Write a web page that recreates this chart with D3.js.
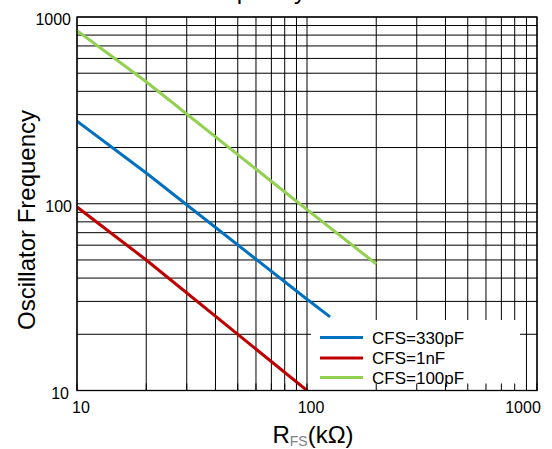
<!DOCTYPE html>
<meta charset="utf-8">
<script src="https://d3js.org/d3.v7.min.js"></script>
<style>
  body { margin: 0; background: #fff; }
  text { font-family: "Liberation Sans", Arial, sans-serif; fill: #000; }
</style>
<svg id="chart" width="552" height="449"></svg>
<script>

// values
var seriesNames = ["CFS=330pF", "CFS=1nF", "CFS=100pF"];
var seriesColors = ["#0070c0", "#c00000", "#92d050"];

var r330 = [10, 20, 100, 126];
var f330 = [277, 146, 30.8, 24.8];

var r1n = [10, 20, 100];
var f1n = [96, 50, 10];

var r100 = [10, 20, 100, 200];
var f100 = [845, 450, 93, 47.6];

var xLabels = ["10", "100", "1000"];
var yLabels = ["10", "100", "1000"];

var svg = d3.select("#chart");

// plot box (window.top is reserved, so no "top" here)
var pLeft = 77, pRight = 537, pTop = 17, pBottom = 390.5;

var x = d3.scaleLog().domain([10, 1000]).range([pLeft, pRight]);
var y = d3.scaleLog().domain([10, 1000]).range([pBottom, pTop]);

// grid
var grid = svg.append("g");
grid.selectAll(".vg")
  .data(x.ticks())
  .enter().append("line")
    .attr("x1", d => x(d)).attr("x2", d => x(d))
    .attr("y1", pTop).attr("y2", pBottom)
    .attr("stroke", "#000").attr("stroke-width", 1);
grid.selectAll(".hg")
  .data(y.ticks())
  .enter().append("line")
    .attr("x1", pLeft).attr("x2", pRight)
    .attr("y1", d => y(d)).attr("y2", d => y(d))
    .attr("stroke", "#000").attr("stroke-width", 1);

// clip
svg.append("clipPath").attr("id", "clip")
  .append("rect").attr("x", pLeft).attr("y", pTop)
  .attr("width", pRight - pLeft).attr("height", pBottom - pTop);

var line = d3.line().x(d => x(d[0])).y(d => y(d[1]));

var series = [
  d3.zip(r330, f330),
  d3.zip(r1n, f1n),
  d3.zip(r100, f100)
];

svg.append("g").attr("clip-path", "url(#clip)")
  .selectAll("path")
  .data(series)
  .enter().append("path")
    .attr("d", line)
    .attr("fill", "none")
    .attr("stroke", (d, i) => seriesColors[i])
    .attr("stroke-width", 3);

// legend box
var lg = svg.append("g");
lg.append("rect")
  .attr("x", 311).attr("y", 320)
  .attr("width", 209).attr("height", pBottom - 320)
  .attr("fill", "#fff");
var rows = [337.5, 358, 377.5];
seriesNames.forEach(function(name, i) {
  lg.append("line")
    .attr("x1", 320).attr("x2", 363)
    .attr("y1", rows[i]).attr("y2", rows[i])
    .attr("stroke", seriesColors[i]).attr("stroke-width", 3);
  lg.append("text")
    .attr("x", 372).attr("y", rows[i] + 6)
    .attr("font-size", 17)
    .text(name);
});

// inward bottom ticks
svg.append("g").selectAll("line")
  .data(x.ticks())
  .enter().append("line")
    .attr("x1", d => x(d)).attr("x2", d => x(d))
    .attr("y1", pBottom - 7).attr("y2", pBottom)
    .attr("stroke", "#000");

// frame
svg.append("rect")
  .attr("x", pLeft).attr("y", pTop)
  .attr("width", pRight - pLeft).attr("height", pBottom - pTop)
  .attr("fill", "none").attr("stroke", "#000").attr("stroke-width", 1.3);

// tick labels
svg.append("g").selectAll("text")
  .data(xLabels)
  .enter().append("text")
    .attr("x", d => x(+d))
    .attr("dx", (d, i) => i == 2 ? -14 : 4)
    .attr("y", 413)
    .attr("text-anchor", "middle")
    .attr("font-size", 16)
    .text(d => d);

svg.append("g").selectAll("text")
  .data(yLabels)
  .enter().append("text")
    .attr("x", (d, i) => [69, 72, 71][i])
    .attr("y", d => y(+d))
    .attr("dy", 8)
    .attr("text-anchor", "end")
    .attr("font-size", 16)
    .text(d => d);

// axis titles
var xt = svg.append("text")
  .attr("x", (pLeft + pRight) / 2 + 6)
  .attr("y", 443)
  .attr("text-anchor", "middle")
  .attr("font-size", 24);
xt.append("tspan").text("R");
xt.append("tspan").attr("font-size", 14).attr("dy", 3).style("fill", "#808080").text("FS");
xt.append("tspan").attr("dy", -3).text("(kΩ)");

svg.append("text")
  .attr("transform", "translate(35,220) rotate(-90)")
  .attr("text-anchor", "middle")
  .attr("font-size", 24)
  .text("Oscillator Frequency");

// chart title, mostly above the page edge
svg.append("text")
  .attr("x", 86)
  .attr("y", -1)
  .attr("font-size", 24)
  .text("Oscillator Frequency");

</script>
